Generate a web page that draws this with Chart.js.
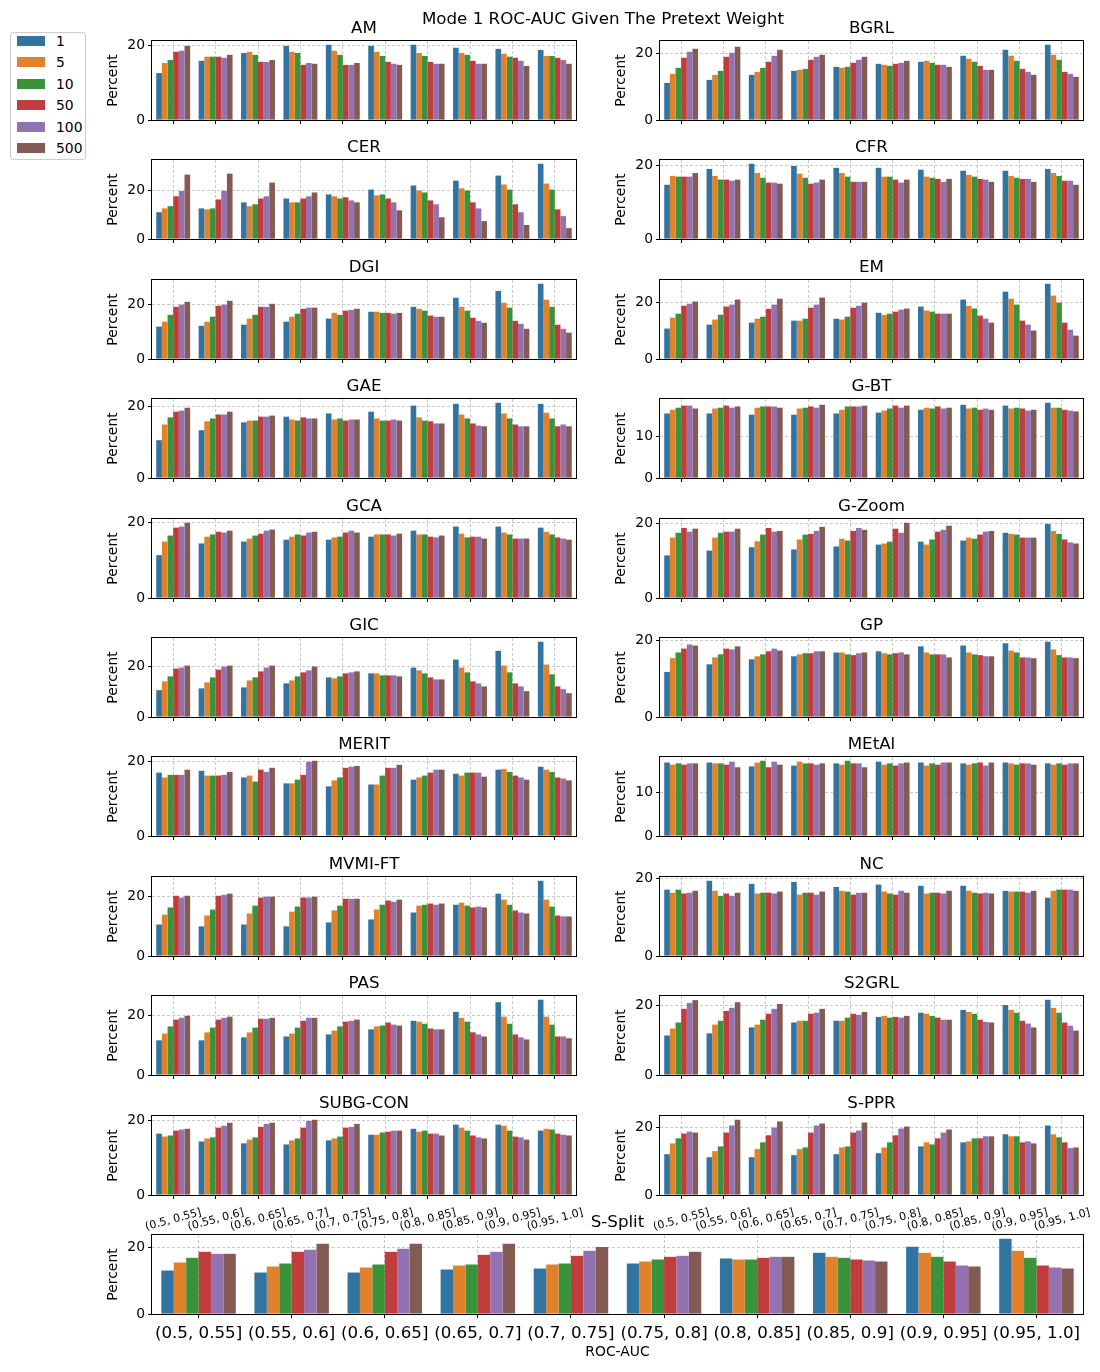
<!DOCTYPE html>
<html><head><meta charset="utf-8">
<script src="https://cdn.jsdelivr.net/npm/chart.js@4/dist/chart.umd.min.js"></script>
<style>
body{margin:0;background:#fff;width:1100px;height:1372px;position:relative;overflow:hidden;font-family:"DejaVu Sans",sans-serif;color:#000;}
canvas{position:absolute;}
.t{position:absolute;text-align:center;font-size:16.7px;line-height:20px;white-space:nowrap;}
#legend{position:absolute;left:10px;top:32px;width:74px;height:126px;border:1px solid #cccccc;border-radius:3px;background:rgba(255,255,255,0.8);}
.lp{position:absolute;width:28px;height:10px;}
.ll{position:absolute;font-size:13.9px;line-height:16px;white-space:nowrap;}
</style></head><body>
<script>
const CATEGORIES = ['(0.5, 0.55]','(0.55, 0.6]','(0.6, 0.65]','(0.65, 0.7]','(0.7, 0.75]','(0.75, 0.8]','(0.8, 0.85]','(0.85, 0.9]','(0.9, 0.95]','(0.95, 1.0]'];
const WEIGHTS = ['1','5','10','50','100','500'];
const COLORS = ['#3274a1','#e1812c','#3a923a','#c03d3e','#9372b2','#845b53'];
const Y_TICKS_HIGH = [0, 20];
const Y_TICKS_LOW = [0, 10];
const SUPTITLE = 'Mode 1 ROC-AUC Given The Pretext Weight';
const X_TITLE = 'ROC-AUC';
const Y_TITLE = 'Percent';

// each row = one ROC-AUC bin, columns = weights 1,5,10,50,100,500 (percent)
const AM = [[12.6,15.3,16.1,18.3,18.6,19.9],[15.9,17.0,17.0,17.0,16.7,17.5],[18.0,18.3,17.5,15.6,15.6,16.1],[19.9,18.3,18.0,14.8,15.3,15.1],[20.2,18.6,17.5,14.8,14.8,15.3],[19.9,18.3,17.2,15.6,15.1,14.8],[20.2,18.0,17.2,15.6,15.1,15.1],[19.4,18.0,17.5,15.9,15.1,15.1],[19.1,17.8,17.0,16.7,15.9,14.5],[18.8,17.2,17.2,16.7,16.1,15.1]];
const BGRL = [[11.1,13.8,15.6,18.6,20.4,21.3],[12.0,13.5,14.7,18.9,20.1,21.9],[13.5,14.4,15.6,17.4,19.2,21.0],[14.7,15.0,15.3,18.0,18.9,19.5],[15.9,15.6,15.9,17.1,18.0,18.9],[16.8,16.5,16.2,16.8,17.1,17.7],[17.4,17.7,17.1,16.5,16.5,15.9],[19.2,18.3,17.4,16.2,15.0,15.0],[21.0,19.2,17.7,15.3,14.4,13.5],[22.5,19.5,18.0,14.4,13.8,12.9]];
const CER = [[11.1,12.7,13.6,17.7,19.9,26.7],[12.7,12.3,12.7,16.4,20.0,27.1],[15.2,13.6,14.4,16.8,17.7,23.4],[16.8,15.2,15.2,16.8,17.7,19.3],[18.5,17.7,16.8,17.3,16.0,15.2],[20.5,18.1,18.5,16.8,15.2,11.9],[22.2,20.1,19.3,16.0,14.4,9.0],[24.2,21.0,20.1,15.2,12.7,7.4],[26.3,22.6,20.5,14.4,11.1,5.8],[31.2,23.0,20.5,12.3,9.5,4.5]];
const CFR = [[14.7,17.1,16.9,16.9,16.9,17.9],[19.0,17.1,16.1,16.1,15.8,16.1],[20.4,17.9,16.6,15.3,15.3,15.0],[19.8,17.7,16.6,15.0,15.3,16.1],[19.3,17.9,16.9,15.5,15.5,15.5],[19.3,16.9,16.9,16.1,15.3,16.1],[18.8,16.9,16.6,16.3,15.5,16.3],[18.5,17.4,16.9,16.3,16.1,15.5],[18.5,17.1,16.6,16.3,16.3,15.5],[19.0,17.9,17.1,15.8,15.8,14.7]];
const DGI = [[11.8,13.6,16.1,19.0,19.8,20.8],[12.1,13.6,15.4,19.4,19.8,21.2],[12.5,14.7,16.1,19.0,19.0,20.1],[13.6,15.4,16.5,18.3,18.7,18.7],[14.7,16.8,16.1,17.6,17.9,18.3],[17.2,17.2,16.8,16.8,16.5,16.8],[19.0,18.3,17.6,15.8,15.4,15.4],[22.3,19.0,17.6,15.0,13.9,13.2],[24.8,20.5,18.7,13.9,12.8,11.0],[27.4,21.6,19.0,12.5,11.0,9.6]];
const EM = [[10.8,14.7,16.1,18.9,19.6,20.4],[12.2,14.0,15.7,18.6,19.3,21.1],[12.9,14.3,15.0,17.8,19.3,21.4],[13.6,13.6,14.3,18.2,19.3,21.8],[14.3,14.0,15.0,18.2,18.9,20.0],[16.4,15.7,16.1,16.8,17.5,17.9],[18.6,17.2,16.8,16.1,16.1,16.1],[21.1,18.9,17.9,15.4,14.3,12.9],[23.9,21.4,19.3,13.6,12.2,10.1],[26.7,22.5,20.0,12.9,10.4,8.3]];
const GAE = [[10.6,15.0,17.0,18.6,18.9,19.7],[13.4,15.9,16.7,17.8,17.8,18.6],[15.6,16.1,16.1,17.2,17.2,17.5],[17.2,16.4,16.1,17.0,16.7,16.7],[18.1,16.4,16.7,16.1,16.4,16.4],[18.6,16.7,16.1,16.1,16.4,16.1],[20.3,17.0,16.1,15.9,15.3,15.3],[20.8,17.8,16.7,15.3,14.7,14.5],[21.1,18.1,16.7,15.0,14.5,14.5],[20.8,18.3,16.7,14.5,15.0,14.5]];
const G_BT = [[15.7,16.6,17.1,17.6,17.6,16.9],[15.7,16.9,17.1,17.6,17.1,17.4],[15.4,17.1,17.4,17.4,17.4,17.1],[15.4,16.9,17.1,17.4,17.1,17.8],[15.7,16.6,17.4,17.4,17.4,17.6],[15.9,16.4,16.9,17.6,17.1,17.6],[16.6,17.1,16.9,17.4,16.9,17.1],[17.8,16.9,17.1,16.6,16.9,16.6],[17.6,16.9,17.1,16.9,16.4,16.6],[18.3,17.1,17.1,16.6,16.4,16.2]];
const GCA = [[11.4,15.0,16.6,18.7,19.0,20.0],[14.5,16.3,16.9,17.6,17.4,17.9],[15.0,15.8,16.6,17.1,17.9,18.2],[15.5,16.3,16.9,16.6,17.4,17.6],[15.5,16.1,16.3,17.4,17.9,17.4],[16.3,16.9,16.9,16.9,16.6,17.1],[17.9,16.9,16.9,16.3,16.1,16.6],[19.0,17.1,16.1,16.3,16.3,15.8],[19.0,17.4,16.9,15.8,15.8,15.8],[18.7,17.6,16.9,16.1,15.8,15.5]];
const G_ZOOM = [[11.5,16.3,17.6,18.9,17.9,18.7],[12.8,16.3,17.6,17.9,17.9,18.7],[13.7,15.3,17.1,18.9,17.9,18.1],[13.1,15.8,17.1,17.3,18.1,19.2],[13.9,16.0,15.5,18.1,18.9,18.4],[14.4,14.7,15.2,18.7,17.6,20.3],[15.2,14.4,15.8,17.9,18.4,19.5],[15.5,16.3,16.0,17.1,17.9,18.1],[17.6,17.3,17.1,16.3,16.3,16.3],[20.0,18.1,17.3,15.8,15.0,14.7]];
const GIC = [[10.7,14.2,16.2,19.3,19.7,20.5],[11.4,13.8,15.8,18.9,20.1,20.5],[11.8,14.6,15.8,18.2,19.7,20.5],[13.4,14.6,16.2,17.8,18.6,20.1],[15.8,15.4,16.2,17.4,17.8,18.2],[17.4,17.4,16.6,16.6,16.6,16.2],[19.7,18.6,17.4,15.8,15.0,15.0],[22.9,19.7,17.8,14.2,13.4,12.2],[26.4,20.5,17.8,13.4,12.2,10.3],[30.0,20.9,17.0,12.2,11.1,9.5]];
const GP = [[11.8,15.4,16.9,17.9,19.0,18.7],[13.8,15.6,16.4,17.9,17.7,18.5],[15.1,15.9,16.4,17.2,17.9,17.4],[15.9,16.4,16.7,16.7,17.2,17.2],[16.9,16.9,16.4,16.2,16.7,16.9],[17.2,16.7,16.4,16.7,16.9,16.4],[18.5,16.9,16.4,16.4,16.4,15.6],[18.7,16.9,16.4,16.2,15.9,15.9],[19.3,17.4,16.9,15.6,15.6,15.4],[19.7,17.7,16.2,15.6,15.6,15.4]];
const MERIT = [[17.1,15.8,16.5,16.5,16.5,17.9],[17.6,16.3,16.3,16.3,16.5,17.3],[15.8,16.3,14.7,17.9,17.3,18.4],[14.2,14.2,15.2,16.5,20.0,20.3],[13.4,15.0,15.8,18.4,18.7,18.9],[13.9,13.9,16.3,18.4,18.4,19.2],[15.2,15.8,16.3,17.1,17.9,17.9],[16.8,16.3,17.1,17.1,17.1,16.0],[17.9,18.1,17.3,16.3,15.8,15.2],[18.7,17.9,17.3,15.8,15.5,15.0]];
const METAL = [[16.9,16.4,16.7,16.4,16.7,16.7],[16.9,16.7,16.7,16.4,17.1,15.8],[16.0,16.9,17.3,15.8,17.1,16.4],[16.2,17.1,16.7,16.7,16.4,16.7],[16.7,16.4,17.3,16.7,16.7,15.8],[17.1,16.4,16.7,16.2,16.7,16.9],[16.9,16.2,16.7,16.4,16.9,16.9],[16.7,16.4,16.7,16.9,16.2,16.9],[16.9,16.7,16.4,16.7,16.7,16.4],[16.7,16.4,16.7,16.4,16.7,16.7]];
const MVMI_FT = [[10.5,13.8,16.2,20.1,19.5,20.1],[9.9,13.5,15.5,20.1,20.4,20.8],[10.5,14.2,16.8,19.5,19.8,19.8],[9.9,14.8,16.5,19.5,19.5,19.8],[11.2,15.2,16.8,19.1,19.1,19.1],[12.2,15.5,17.1,18.5,18.1,18.8],[14.5,16.8,17.1,17.5,17.1,17.5],[17.1,17.8,16.8,16.2,16.5,16.2],[20.8,18.8,17.1,15.2,14.5,14.2],[25.1,18.8,16.5,13.5,13.2,13.2]];
const NC = [[17.2,16.4,17.2,16.2,16.4,16.9],[19.5,16.9,15.6,16.2,15.6,16.4],[18.7,16.2,16.4,16.4,16.2,16.7],[19.2,15.9,16.4,16.4,15.9,16.7],[17.9,16.9,16.7,15.9,16.4,16.4],[18.5,16.7,16.2,15.9,16.9,16.4],[18.2,16.2,16.4,16.4,16.2,16.9],[18.2,16.9,16.4,16.2,16.4,16.2],[16.9,16.7,16.7,16.7,16.4,16.9],[15.1,16.9,17.2,17.2,17.2,16.9]];
const PAS = [[11.7,14.0,16.4,18.7,19.3,20.0],[11.7,14.4,16.0,18.7,19.3,19.7],[12.7,14.4,16.0,19.0,19.0,19.3],[13.0,14.0,16.0,18.3,19.3,19.3],[13.7,15.0,16.4,18.0,18.3,18.7],[15.4,16.4,16.7,17.7,17.0,16.7],[18.3,18.0,17.3,15.7,15.4,15.4],[21.3,19.3,18.0,14.4,13.7,13.0],[24.6,19.7,17.3,13.7,12.7,12.0],[25.4,19.7,17.0,13.0,13.0,12.4]];
const S2GRL = [[11.3,13.3,15.0,18.9,20.6,21.4],[11.9,14.4,15.5,18.3,19.2,20.8],[13.6,14.4,15.8,17.5,18.9,20.3],[15.0,15.5,15.5,17.5,17.8,18.9],[15.5,15.5,16.4,17.5,17.2,18.0],[16.6,16.9,16.4,16.6,16.4,16.9],[17.8,17.5,16.9,16.4,15.8,15.8],[18.6,18.0,17.5,15.8,15.2,15.0],[20.0,18.6,17.8,15.5,14.7,13.6],[21.5,19.2,17.8,15.0,14.1,12.7]];
const SUBG_CON = [[16.4,15.6,15.9,17.2,17.5,17.7],[14.3,15.1,15.4,18.0,18.5,19.3],[13.8,14.8,15.4,18.2,19.0,19.3],[13.5,14.6,15.1,18.0,19.8,20.1],[14.6,15.1,15.6,18.0,18.2,19.0],[16.1,16.1,16.7,16.9,17.2,17.2],[17.7,16.9,17.2,16.4,16.4,15.9],[18.8,18.0,17.2,15.9,15.4,15.1],[18.8,18.5,17.2,15.6,15.4,14.8],[17.2,17.7,17.5,16.4,16.1,15.9]];
const S_PPR = [[12.1,15.3,16.8,18.2,18.8,18.5],[11.2,13.0,14.4,18.5,20.6,22.3],[11.2,13.6,15.6,17.7,20.0,21.8],[11.8,13.6,14.1,18.5,20.6,21.2],[12.1,14.1,14.4,18.5,19.1,21.5],[12.4,14.1,15.6,17.7,19.7,20.3],[14.4,15.6,15.0,16.8,18.5,19.4],[15.6,15.9,16.8,16.8,17.4,17.4],[18.0,17.4,17.4,15.6,15.9,15.3],[20.6,18.0,17.1,15.6,13.9,14.1]];
const S_SPLIT = [[13.0,15.4,16.8,18.6,18.0,18.0],[12.4,14.2,15.1,18.6,19.2,21.0],[12.4,13.9,14.8,18.6,19.5,21.0],[13.3,14.5,14.8,17.7,18.6,21.0],[13.6,14.8,15.1,17.4,18.9,20.0],[15.1,15.7,16.3,17.1,17.4,18.6],[16.6,16.3,16.3,16.8,17.1,17.1],[18.3,17.1,16.8,16.3,16.0,15.7],[20.1,18.3,17.1,15.7,14.5,14.2],[22.5,18.9,16.8,14.5,13.9,13.6]];

const LEFT_PANELS = [['AM',AM],['CER',CER],['DGI',DGI],['GAE',GAE],['GCA',GCA],['GIC',GIC],['MERIT',MERIT],['MVMI-FT',MVMI_FT],['PAS',PAS],['SUBG-CON',SUBG_CON]];
const RIGHT_PANELS = [['BGRL',BGRL],['CFR',CFR],['EM',EM],['G-BT',G_BT],['G-Zoom',G_ZOOM],['GP',GP],['MEtAl',METAL],['NC',NC],['S2GRL',S2GRL],['S-PPR',S_PPR]];
const BOTTOM_PANEL = ['S-Split', S_SPLIT];

Chart.defaults.font.family = '"DejaVu Sans", sans-serif';
Chart.defaults.color = '#000';

const GRID = 'rgba(176,176,176,0.85)';
const YW = 60, PADT = 12, PADR = 10;

const boxPlugin = {
  id: 'box',
  afterDraw(c) {
    const a = c.chartArea, x = c.ctx;
    x.save();
    x.strokeStyle = '#000';
    x.lineWidth = 1;
    x.strokeRect(a.left - 0.5, a.top - 0.5, a.right - a.left + 1, a.bottom - a.top + 1);
    x.restore();
  }
};

function addTitle(text, cx, top) {
  const d = document.createElement('div');
  d.className = 't';
  d.textContent = text;
  d.style.left = (cx - 200) + 'px';
  d.style.width = '400px';
  d.style.top = top + 'px';
  document.body.appendChild(d);
}

function panel(title, rows, pl, pt, pw, ph, mode) {
  const XH = mode === 'none' ? 8 : (mode === 'small' ? 45 : 50);
  const cv = document.createElement('canvas');
  const W = YW + pw + PADR, H = PADT + ph + XH;
  cv.width = W; cv.height = H;
  cv.style.width = W + 'px'; cv.style.height = H + 'px';
  cv.style.left = (pl - YW) + 'px';
  cv.style.top = (pt - PADT) + 'px';
  document.body.appendChild(cv);

  let maxV = 0;
  rows.forEach(r => r.forEach(v => { if (v > maxV) maxV = v; }));
  const ymax = maxV * 1.05;
  const yt = ymax >= 20 ? Y_TICKS_HIGH : Y_TICKS_LOW;

  const gridCommon = {
    offset: false, color: GRID, lineWidth: 0.8, drawTicks: true,
    tickLength: 4, tickColor: '#000', tickWidth: 1, tickBorderDash: []
  };
  let xticks, xtitle = {display: false};
  if (mode === 'none') {
    xticks = {display: false, autoSkip: false};
  } else if (mode === 'small') {
    xticks = {display: true, autoSkip: false, font: {size: 11}, color: '#000',
      minRotation: 15, maxRotation: 15, labelOffset: 28, padding: 7};
  } else {
    xticks = {display: true, autoSkip: false, font: {size: 16.7}, color: '#000',
      minRotation: 0, maxRotation: 0, padding: 6};
    xtitle = {display: true, text: X_TITLE, font: {size: 13.9}, color: '#000', padding: {top: 0, bottom: 3}};
  }

  new Chart(cv, {
    type: 'bar',
    data: {
      labels: CATEGORIES,
      datasets: WEIGHTS.map((w, j) => ({
        label: w,
        data: rows.map(r => r[j]),
        backgroundColor: COLORS[j],
        borderWidth: 0,
        categoryPercentage: 0.8,
        barPercentage: 1.0
      }))
    },
    options: {
      responsive: false, animation: false, devicePixelRatio: 1,
      layout: {padding: {top: PADT, right: PADR, bottom: 0, left: 0}},
      plugins: {legend: {display: false}, tooltip: {enabled: false}, title: {display: false}},
      scales: {
        x: {
          type: 'category', offset: true, z: 1,
          grid: gridCommon,
          border: {display: false, dash: [3, 2]},
          ticks: xticks,
          title: xtitle,
          afterFit: s => { s.height = XH; s.paddingLeft = 0; s.paddingRight = 0; }
        },
        y: {
          min: 0, max: ymax, z: 1,
          afterBuildTicks: s => { s.ticks = yt.map(v => ({value: v})); },
          grid: gridCommon,
          border: {display: false, dash: [3, 2]},
          ticks: {font: {size: 13.9}, color: '#000', padding: 3},
          title: {display: true, text: Y_TITLE, font: {size: 13.9}, color: '#000', padding: {top: 13, bottom: 0}},
          afterFit: s => { s.width = YW; s.paddingTop = 0; s.paddingBottom = 0; }
        }
      }
    },
    plugins: [boxPlugin]
  });

  addTitle(title, pl + pw / 2, pt - 24);
}

const ROW_TOP0 = 40.7, ROW_STEP = 119.45, PH = 79;
for (let i = 0; i < LEFT_PANELS.length; i++) {
  const pt = Math.round(ROW_TOP0 + ROW_STEP * i);
  const last = i === LEFT_PANELS.length - 1;
  panel(LEFT_PANELS[i][0], LEFT_PANELS[i][1], 152, pt, 424, PH, last ? 'small' : 'none');
  panel(RIGHT_PANELS[i][0], RIGHT_PANELS[i][1], 660, pt, 423, PH, last ? 'small' : 'none');
}
panel(BOTTOM_PANEL[0], BOTTOM_PANEL[1], 152, Math.round(ROW_TOP0 + ROW_STEP * 10), 931, PH, 'big');

// suptitle
addTitle(SUPTITLE, 603, 8);

// legend
const lg = document.createElement('div');
lg.id = 'legend';
document.body.appendChild(lg);
WEIGHTS.forEach((w, i) => {
  const cy = 41 + 21.4 * i;
  const p = document.createElement('div');
  p.className = 'lp';
  p.style.background = COLORS[i];
  p.style.left = '17px';
  p.style.top = Math.round(cy - 5) + 'px';
  document.body.appendChild(p);
  const l = document.createElement('div');
  l.className = 'll';
  l.textContent = w;
  l.style.left = '56px';
  l.style.top = Math.round(cy - 8) + 'px';
  document.body.appendChild(l);
});
</script>
</body></html>
